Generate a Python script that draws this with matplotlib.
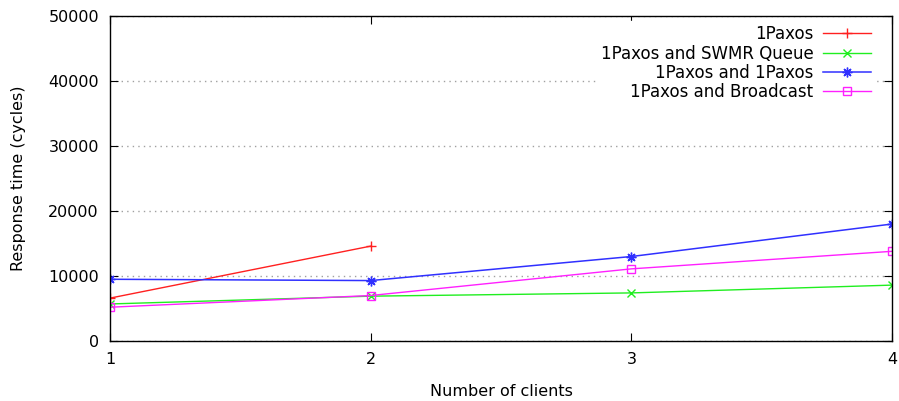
import numpy as np
import matplotlib.pyplot as plt

# valores
clients = [1, 2, 3, 4]
paxos = [6600, 14600]
swmr = [5700, 6900, 7400, 8600]
paxos_paxos = [9500, 9300, 13000, 18000]
broadcast = [5200, 7000, 11100, 13800]

yticks = [0, 10000, 20000, 30000, 40000, 50000]

fig = plt.figure(figsize=(8.99, 4.01), dpi=100)
ax = fig.add_axes([0.1224, 0.1496, 0.8698, 0.8104])

ax.plot(clients[:2], paxos, color='#ff2020', lw=1, marker='+', ms=7, label='1Paxos')
ax.plot(clients, swmr, color='#20ee20', lw=1, marker='x', ms=6, label='1Paxos and SWMR Queue')
ax.plot(clients, paxos_paxos, color='#3030ff', lw=1.1, marker=(8, 2, 0), ms=7, label='1Paxos and 1Paxos')
ax.plot(clients, broadcast, color='#ff20ff', lw=1, marker='s', ms=6, mfc='none', label='1Paxos and Broadcast')

ax.set_xlim(1, 4)
ax.set_ylim(0, 50000)
ax.set_xticks(clients)
ax.set_yticks(yticks)
ax.grid(axis='y', color='#a0a0a0', linestyle=(0, (1, 3)), lw=1)
ax.tick_params(direction='in', top=True, right=True, length=6, labelsize=11.5, pad=8)
for s in ax.spines.values():
    s.set_linewidth(1)

ax.set_xlabel('Number of clients', fontsize=11.5, labelpad=12)
ax.set_ylabel('Response time (cycles)', fontsize=11.5, labelpad=16)

leg = ax.legend(loc='upper right', markerfirst=False, frameon=True, fontsize=12,
                handlelength=2.9, handletextpad=0.55, labelspacing=0.08,
                borderaxespad=0.3, borderpad=0.25, fancybox=False,
                bbox_to_anchor=(0.985, 1.0))
leg.get_frame().set_edgecolor('white')
leg.get_frame().set_alpha(1)
for t in leg.get_texts():
    t.set_ha('right')
leg._legend_box.align = 'right'

fig.savefig('out.png', dpi=100)
